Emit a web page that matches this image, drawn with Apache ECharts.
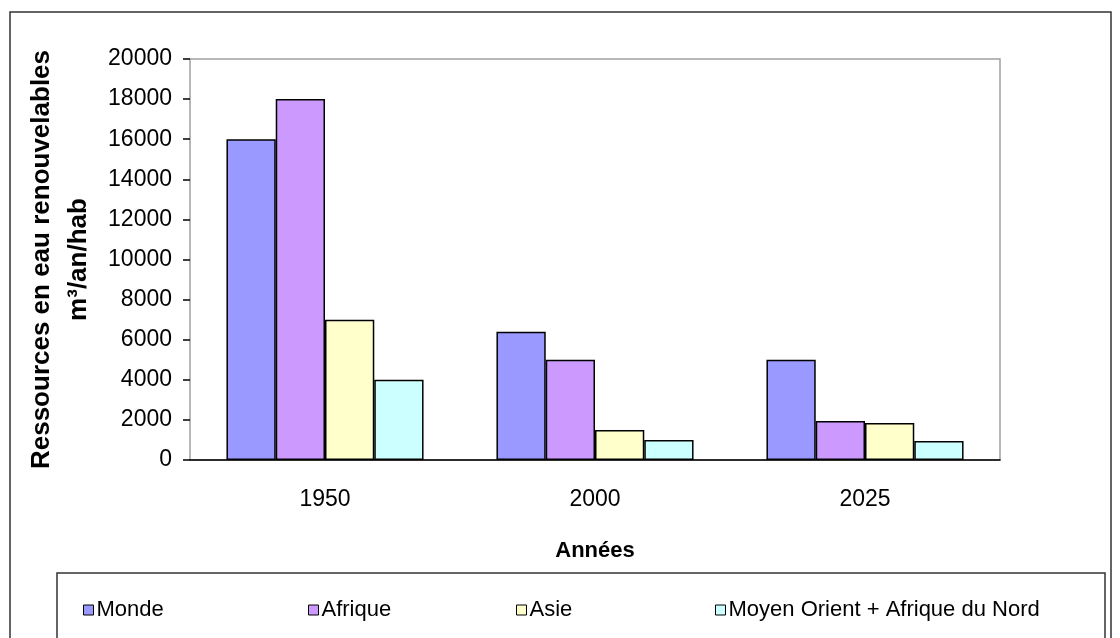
<!DOCTYPE html>
<html>
<head>
<meta charset="utf-8">
<script src="https://cdn.jsdelivr.net/npm/echarts@6/dist/echarts.min.js"></script>
<style>
  html, body { margin: 0; padding: 0; background: #fff; }
  #main { width: 1120px; height: 638px; }
</style>
</head>
<body>
<div id="main"></div>
<script>
var years = ['1950', '2000', '2025'];
var seriesNames = ['Monde', 'Afrique', 'Asie', 'Moyen Orient + Afrique du Nord'];
var monde = [16000, 6400, 5000];
var afrique = [18000, 5000, 1950];
var asie = [7000, 1500, 1850];
var moyenOrient = [4000, 1000, 950];
var colors = ['#9999FF', '#CC99FF', '#FFFFCC', '#CCFFFF'];

var chart = echarts.init(document.getElementById('main'));
var font = 'Liberation Sans, Arial, sans-serif';

function bar(name, data, color) {
  return {
    name: name,
    type: 'bar',
    data: data,
    barGap: 0,
    barCategoryGap: '27%',
    itemStyle: { color: color, borderColor: '#000', borderWidth: 1.5 }
  };
}

// one legend per item so spacing follows the original
var legendLefts = [78, 303, 511, 710];
var legends = seriesNames.map(function (n, i) {
  return {
    data: [n],
    left: legendLefts[i],
    top: 594,
    icon: 'rect',
    itemWidth: 10,
    itemHeight: 10,
    itemGap: 5,
    itemStyle: { borderColor: '#000', borderWidth: 1 },
    textStyle: { fontFamily: font, fontSize: 22, color: '#000', padding: [0, 0, 0, -2] }
  };
});

var option = {
  animation: false,
  backgroundColor: '#fff',
  textStyle: { fontFamily: font },
  grid: {
    left: 190, right: 120, top: 59, bottom: 178,
    outerBoundsMode: 'none',
    containLabel: false,
    show: true, borderColor: '#a0a0a0', borderWidth: 1.5
  },
  legend: legends,
  xAxis: {
    type: 'category',
    data: years,
    name: 'Années',
    nameLocation: 'middle',
    nameGap: 80,
    nameTextStyle: { fontFamily: font, fontSize: 22, fontWeight: 'bold', color: '#000' },
    axisLine: { lineStyle: { color: '#000', width: 1.5 } },
    axisTick: { length: 7, lineStyle: { color: '#000', width: 1.5 } },
    axisLabel: { fontFamily: font, fontSize: 23, color: '#000', margin: 28 }
  },
  yAxis: {
    type: 'value',
    min: 0,
    max: 20000,
    interval: 2000,
    name: 'Ressources en eau renouvelables\nm³/an/hab',
    nameLocation: 'middle',
    nameRotate: 90,
    nameGap: 87,
    nameTextStyle: { fontFamily: font, fontSize: 26, fontWeight: 'bold', color: '#000', lineHeight: 37 },
    axisLine: { show: false },
    axisTick: { show: true, length: 7, lineStyle: { color: '#000', width: 1.5 } },
    splitLine: { show: false },
    axisLabel: {
      fontFamily: font, fontSize: 23, color: '#000', margin: 18,
      formatter: function (v) { return String(v); }
    }
  },
  graphic: [
    {
      type: 'rect',
      shape: { x: 10, y: 12, width: 1101, height: 640 },
      style: { fill: null, stroke: '#333', lineWidth: 1.5 },
      silent: true
    },
    {
      type: 'rect',
      shape: { x: 57, y: 573, width: 1048, height: 80 },
      style: { fill: null, stroke: '#333', lineWidth: 1.5 },
      silent: true
    }
  ],
  series: [
    bar(seriesNames[0], monde, colors[0]),
    bar(seriesNames[1], afrique, colors[1]),
    bar(seriesNames[2], asie, colors[2]),
    bar(seriesNames[3], moyenOrient, colors[3])
  ]
};
chart.setOption(option);
</script>
</body>
</html>
